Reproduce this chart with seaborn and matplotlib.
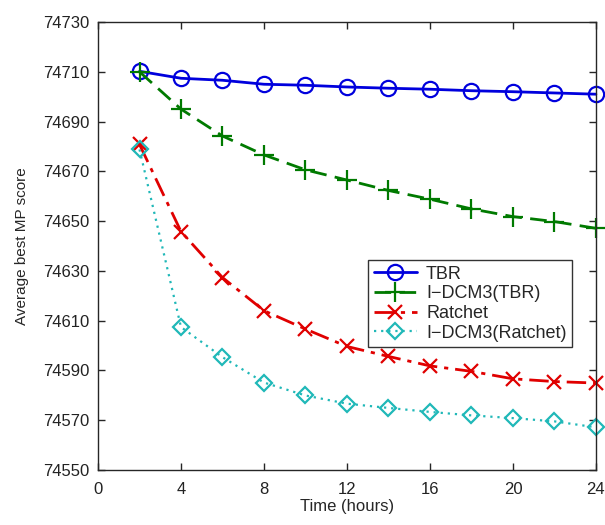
import matplotlib
matplotlib.use("Agg")
import matplotlib.pyplot as plt
import seaborn as sns
import numpy as np

hours = [2, 4, 6, 8, 10, 12, 14, 16, 18, 20, 22, 24]
tbr = [74710.2, 74707.4, 74706.6, 74705.0, 74704.6, 74703.9, 74703.4, 74703.0, 74702.4, 74702.0, 74701.5, 74701.0]
idcm3_tbr = [74710.0, 74695.0, 74684.2, 74676.6, 74670.6, 74666.5, 74662.3, 74658.8, 74654.9, 74651.8, 74649.8, 74647.1]
ratchet = [74680.8, 74645.8, 74627.3, 74614.0, 74606.6, 74599.6, 74595.6, 74591.8, 74589.6, 74586.6, 74585.5, 74584.9]
idcm3_ratchet = [74678.8, 74607.4, 74595.3, 74585.1, 74579.9, 74576.6, 74574.9, 74573.3, 74571.9, 74570.8, 74569.5, 74567.1]

labels = ["TBR", "I\u2212DCM3(TBR)", "Ratchet", "I\u2212DCM3(Ratchet)"]
x_ticks = [0, 4, 8, 12, 16, 20, 24]
y_ticks = [74550, 74570, 74590, 74610, 74630, 74650, 74670, 74690, 74710, 74730]

sns.set_style("ticks")
plt.rcParams["font.family"] = ["Liberation Sans", "DejaVu Sans"]
plt.rcParams["xtick.direction"] = "in"
plt.rcParams["ytick.direction"] = "in"

fig = plt.figure(figsize=(6.05, 5.25), dpi=100)
ax = fig.add_axes([0.162, 0.105, 0.823, 0.853])

specs = [
    ("#0000dd", "-", "o", 11, 2.0),
    ("#007a00", (0, (6, 3)), "+", 14, 2.0),
    ("#e00000", (0, (7, 2.5, 1.5, 2.5)), "x", 10, 2.0),
    ("#20b8b8", (0, (1, 2.2)), "D", 8.5, 1.6),
]
for vals, lab, (col, ls, mk, ms, lw) in zip(
        [tbr, idcm3_tbr, ratchet, idcm3_ratchet], labels, specs):
    sns.lineplot(x=hours, y=vals, ax=ax, color=col, linestyle=ls, linewidth=lw,
                 marker=mk, markersize=ms, markerfacecolor="none",
                 markeredgecolor=col, markeredgewidth=1.6, label=lab, clip_on=False)

ax.set_xlim(0, 24)
ax.set_ylim(74550, 74730)
ax.set_xticks(x_ticks)
ax.set_yticks(y_ticks)
ax.tick_params(top=True, right=True, labelsize=12, length=5, width=1,
               labelcolor="#222222")
ax.tick_params(axis="x", pad=9)
ax.tick_params(axis="y", pad=6)
for s in ax.spines.values():
    s.set_linewidth(1.0)
ax.set_xlabel("Time (hours)", fontsize=12, labelpad=1)
ax.set_ylabel("Average best MP score", fontsize=11, labelpad=10)

leg = ax.legend(loc="lower right", bbox_to_anchor=(0.952, 0.274), borderaxespad=0,
                fontsize=13, frameon=True, fancybox=False, handlelength=2.4,
                handletextpad=0.5, labelspacing=0.15, borderpad=0.3)
leg.get_frame().set_edgecolor("black")
leg.get_frame().set_linewidth(1.0)

fig.savefig("out.png", dpi=100)
